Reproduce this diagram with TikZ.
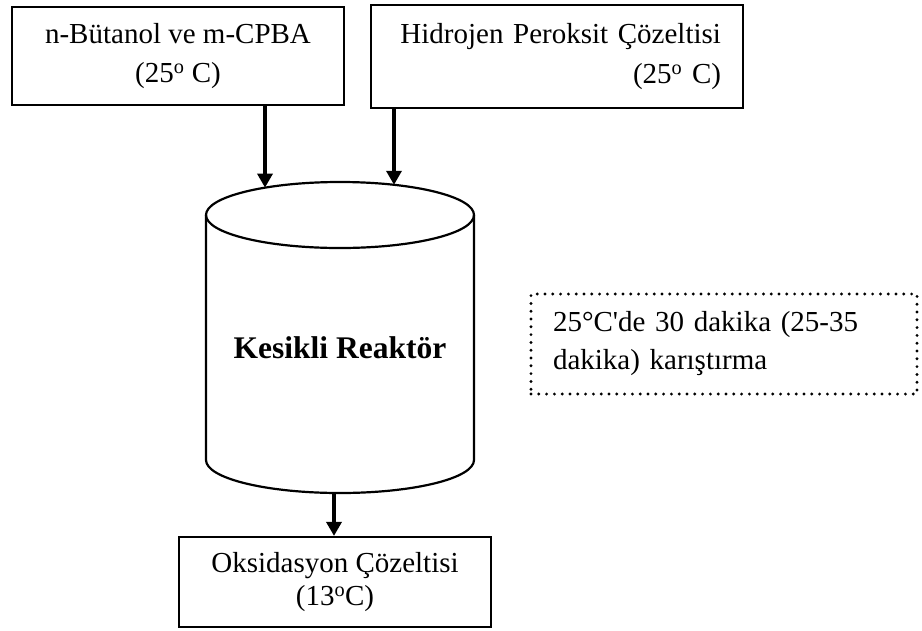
\documentclass[tikz,border=0pt]{standalone}
\usepackage{fontspec}
\setmainfont{Liberation Serif}[Ligatures=TeXOff]
\usetikzlibrary{arrows.meta}

\begin{document}
\begin{tikzpicture}[x=1pt,y=1pt,
  txt/.style={font=\fontsize{29}{#1}\selectfont},
  solidbox/.style={draw,line width=2.2pt,inner sep=0pt},
  dotbox/.style={draw,line width=3.2pt,line cap=round,
                 dash pattern=on 0pt off 7.8pt,inner sep=0pt},
  vessel/.style={line width=2.2pt},
  feed/.style={line width=3.4pt,-{Triangle[width=15pt,length=14pt]}}]

\useasboundingbox (0,0) rectangle (922,-630);

% feed boxes
\node[solidbox,txt=39,align=center,minimum width=332pt,minimum height=98pt]
  (butanol) at (178,-56) {n-Bütanol ve m-CPBA\\(25\textsuperscript{o} C)};
\node[solidbox,txt=40,align=right,text width=328pt,inner xsep=22pt,
      minimum height=103pt]
  (peroxide) at (557,-56.5) {Hidrojen Peroksit Çözeltisi\\(25\textsuperscript{o} C)};

% batch reactor drawn as a cylinder
\draw[vessel] (340,-215) ellipse [x radius=134, y radius=33];
\draw[vessel] (206,-215) -- (206,-460)
  arc[start angle=180, end angle=360, x radius=134, y radius=33]
  -- (474,-215);
\node[txt=39] (reactor) at (340,-348) {\bfseries\fontsize{31.5}{38}\selectfont Kesikli Reaktör};

% points where the streams meet the vessel
\coordinate (inA) at (265,-187.6);
\coordinate (inB) at (394,-184.8);
\coordinate (outlet) at (334,-493);

% operating conditions
\node[dotbox,txt=38,align=left,text width=342pt,inner xsep=22pt,
      minimum height=100pt]
  (cond) at (724,-344) {25°C'de 30 dakika (25-35\\dakika) karıştırma};

% product box
\node[solidbox,txt=33,align=center,minimum width=312pt,minimum height=90pt]
  (product) at (335,-582) {Oksidasyon Çözeltisi\\(13\textsuperscript{o}C)};

% streams
\draw[feed] (butanol.south -| inA) -- (inA);
\draw[feed] (peroxide.south -| inB) -- (inB);
\draw[feed] (outlet) -- (outlet |- product.north);
\end{tikzpicture}
\end{document}
